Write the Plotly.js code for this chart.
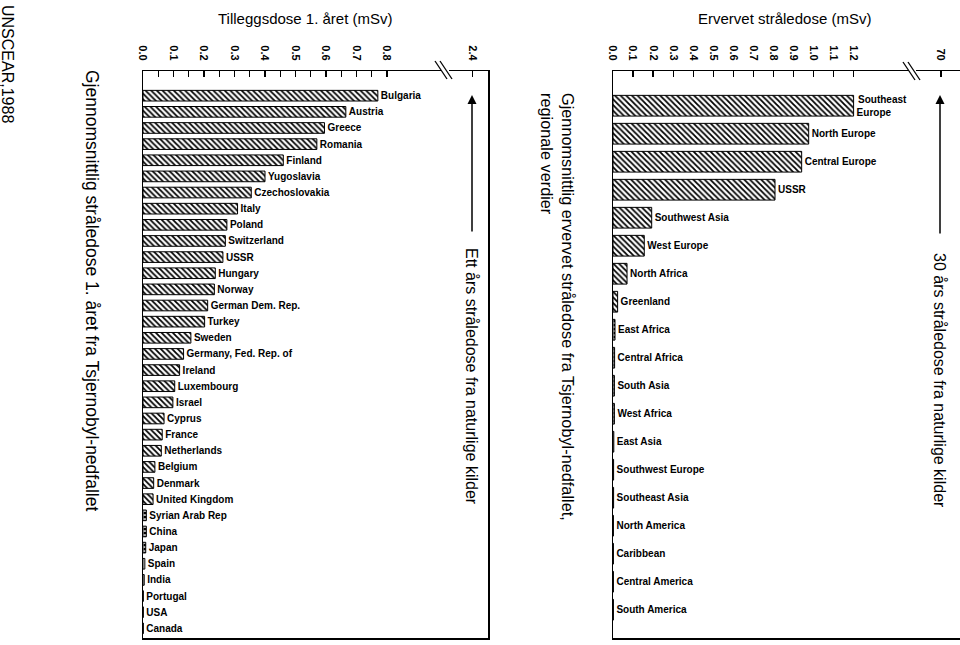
<!DOCTYPE html>
<html>
<head>
<meta charset="utf-8">
<script src="https://cdn.plot.ly/plotly-3.0.1.min.js"></script>
<style>html,body{margin:0;padding:0;background:#fff;}#chart{width:960px;height:645px;}</style>
</head>
<body>
<div id="chart"></div>
<script>
// ---- Data: left panel (Tilleggsdose 1. året, mSv) ----
const countries = ["Bulgaria","Austria","Greece","Romania","Finland","Yugoslavia","Czechoslovakia","Italy","Poland","Switzerland","USSR","Hungary","Norway","German Dem. Rep.","Turkey","Sweden","Germany, Fed. Rep. of","Ireland","Luxembourg","Israel","Cyprus","France","Netherlands","Belgium","Denmark","United Kingdom","Syrian Arab Rep","China","Japan","Spain","India","Portugal","USA","Canada"];
const countryDose = [0.77,0.665,0.595,0.57,0.46,0.40,0.355,0.31,0.275,0.27,0.262,0.237,0.234,0.212,0.202,0.157,0.133,0.12,0.104,0.098,0.069,0.063,0.06,0.039,0.035,0.033,0.011,0.011,0.009,0.006,0.004,0.001,0.001,0.001];
const countryHatch = ["\\","\\","\\","\\","\\","\\","\\","\\","\\","\\","\\","\\","\\","\\","\\","\\","\\","\\","\\","\\","\\","\\","\\","\\","\\","\\",".",".",".","","","","",""];

// ---- Data: right panel (Ervervet stråledose, mSv) ----
const regions = ["Southeast<br>Europe\u00A0\u00A0\u00A0\u00A0\u00A0\u00A0","North Europe","Central Europe","USSR","Southwest Asia","West Europe","North Africa","Greenland","East Africa","Central Africa","South Asia","West Africa","East Asia","Southwest Europe","Southeast Asia","North America","Caribbean","Central America","South America"];
const regionDose = [1.20,0.976,0.941,0.808,0.193,0.156,0.07,0.023,0.01,0.008,0.007,0.007,0.004,0.003,0.003,0.002,0.002,0.002,0.002];
const regionHatch = ["\\","\\","\\","\\","\\","\\","\\","\\",".",".",".",".","","","","","","",""];

// ---- Tick labels ----
const leftTickVals = [0,0.1,0.2,0.3,0.4,0.5,0.6,0.7,0.8,1.0807];
const leftTickText = ["0.0","0.1","0.2","0.3","0.4","0.5","0.6","0.7","0.8","2.4"];
const leftMinorVals = [0.05,0.15,0.25,0.35,0.45,0.55,0.65,0.75];
const rightTickVals = [0,0.1,0.2,0.3,0.4,0.5,0.6,0.7,0.8,0.9,1.0,1.1,1.2,1.636];
const rightTickText = ["0.0","0.1","0.2","0.3","0.4","0.5","0.6","0.7","0.8","0.9","1.0","1.1","1.2","70"];

const W = 960, H = 645;
const px = x => x / W;
const py = y => 1 - y / H;
const FONT = "Liberation Sans, Arial, sans-serif";

const barFont = {family: FONT, size: 10, color: "#000", weight: "bold"};

const traces = [
  {
    type: "bar", orientation: "h", x: countryDose, y: countries,
    xaxis: "x", yaxis: "y", width: 0.66,
    text: countries, textposition: "outside", cliponaxis: false, constraintext: "none",
    textfont: barFont,
    marker: {color: "#fff", line: {color: "#000", width: 1},
      pattern: {shape: countryHatch, fgcolor: "#000", bgcolor: "#fff", size: 4, solidity: 0.45}},
    hoverinfo: "none"
  },
  {
    type: "bar", orientation: "h", x: regionDose, y: regions,
    xaxis: "x2", yaxis: "y2", width: 0.74,
    text: regions, textposition: "outside", cliponaxis: false, constraintext: "none",
    textfont: barFont,
    marker: {color: "#fff", line: {color: "#000", width: 1},
      pattern: {shape: regionHatch, fgcolor: "#000", bgcolor: "#fff", size: 4, solidity: 0.45}},
    hoverinfo: "none"
  }
];

const tickFont = {family: FONT, size: 11, color: "#000", weight: "bold"};
const yDomain = [py(638), py(71)];

function xAxis(domain, range, vals, text, minorVals, anchor) {
  const a = {
    domain: domain, range: range, side: "top", anchor: anchor,
    showline: true, linecolor: "#000", linewidth: 1.5, mirror: true,
    showgrid: false, zeroline: false,
    tickmode: "array", tickvals: vals, ticktext: text,
    ticks: "inside", ticklen: 6, tickwidth: 1.3, tickcolor: "#000",
    tickangle: 90, tickfont: tickFont, ticklabelstandoff: 5
  };
  if (minorVals) {
    a.minor = {tickmode: "array", tickvals: minorVals, ticks: "inside", ticklen: 6, tickwidth: 1.3, tickcolor: "#000", showgrid: false};
  }
  return a;
}

const layout = {
  width: W, height: H,
  margin: {l: 0, r: 0, t: 0, b: 0},
  paper_bgcolor: "#fff", plot_bgcolor: "#fff",
  showlegend: false, bargap: 0.3,
  font: {family: FONT, color: "#000"},
  xaxis: xAxis([px(143), px(488)], [0, 345 / 305], leftTickVals, leftTickText, leftMinorVals, "y"),
  yaxis: {domain: yDomain, anchor: "x", type: "category", categoryorder: "array", categoryarray: countries,
    range: [33.6, -1.53], showline: true, linecolor: "#000", linewidth: 1.5, mirror: true,
    showticklabels: false, ticks: "", showgrid: false, zeroline: false},
  xaxis2: xAxis([px(613), 1], [0, 347 / 200.5], rightTickVals, rightTickText, null, "y2"),
  yaxis2: {domain: yDomain, anchor: "x2", type: "category", categoryorder: "array", categoryarray: regions,
    range: [19.01, -1.24], showline: true, linecolor: "#000", linewidth: 1.5, mirror: true,
    showticklabels: false, ticks: "", showgrid: false, zeroline: false},
  shapes: [
    // axis break marks, left panel
    {type: "rect", xref: "paper", yref: "paper", x0: px(441), x1: px(449), y0: py(74), y1: py(68), fillcolor: "#fff", line: {width: 0}, layer: "above"},
    {type: "line", xref: "paper", yref: "paper", x0: px(435), y0: py(61), x1: px(447), y1: py(79), line: {color: "#000", width: 1.3}},
    {type: "line", xref: "paper", yref: "paper", x0: px(440), y0: py(61), x1: px(452), y1: py(79), line: {color: "#000", width: 1.3}},
    // axis break marks, right panel
    {type: "rect", xref: "paper", yref: "paper", x0: px(909), x1: px(916), y0: py(74), y1: py(68), fillcolor: "#fff", line: {width: 0}, layer: "above"},
    {type: "line", xref: "paper", yref: "paper", x0: px(903), y0: py(62), x1: px(915), y1: py(80), line: {color: "#000", width: 1.3}},
    {type: "line", xref: "paper", yref: "paper", x0: px(908), y0: py(62), x1: px(920), y1: py(80), line: {color: "#000", width: 1.3}}
  ],
  annotations: [
    {text: "Tilleggsdose 1. året (mSv)", xref: "paper", yref: "paper", x: px(305), y: py(18), xanchor: "center", yanchor: "middle", showarrow: false, font: {family: FONT, size: 15, color: "#000"}},
    {text: "Ervervet stråledose (mSv)", xref: "paper", yref: "paper", x: px(784), y: py(18), xanchor: "center", yanchor: "middle", showarrow: false, font: {family: FONT, size: 15, color: "#000"}},
    {text: "UNSCEAR,1988", xref: "paper", yref: "paper", x: px(8), y: py(64), xanchor: "center", yanchor: "middle", textangle: 90, showarrow: false, font: {family: FONT, size: 16, color: "#000"}},
    {text: "Gjennomsnittlig stråledose 1. året fra Tsjernobyl-nedfallet", xref: "paper", yref: "paper", x: px(92), y: py(290), xanchor: "center", yanchor: "middle", textangle: 90, showarrow: false, font: {family: FONT, size: 17.5, color: "#000"}},
    {text: "Gjennomsnittlig ervervet stråledose fra Tsjernobyl-nedfallet,<br>regionale verdier", xref: "paper", yref: "paper", x: px(558), y: py(307), xanchor: "center", yanchor: "middle", align: "left", textangle: 90, showarrow: false, font: {family: FONT, size: 16.3, color: "#000"}},
    {text: "Ett års stråledose fra naturlige kilder", xref: "paper", yref: "paper", x: px(472), y: py(376), xanchor: "center", yanchor: "middle", textangle: 90, showarrow: false, font: {family: FONT, size: 16, color: "#000"}},
    {text: "30 års stråledose fra naturlige kilder", xref: "paper", yref: "paper", x: px(940), y: py(380), xanchor: "center", yanchor: "middle", textangle: 90, showarrow: false, font: {family: FONT, size: 16, color: "#000"}},
    {text: "", xref: "paper", yref: "paper", x: px(472), y: py(95), ax: 0, ay: 138, axref: "pixel", ayref: "pixel", showarrow: true, arrowhead: 2, arrowsize: 1.2, arrowwidth: 1.5, arrowcolor: "#000", standoff: 0, startstandoff: 0},
    {text: "", xref: "paper", yref: "paper", x: px(940), y: py(95), ax: 0, ay: 140, axref: "pixel", ayref: "pixel", showarrow: true, arrowhead: 2, arrowsize: 1.2, arrowwidth: 1.5, arrowcolor: "#000", standoff: 0, startstandoff: 0}
  ]
};

Plotly.newPlot("chart", traces, layout, {displayModeBar: false, staticPlot: true});
</script>
</body>
</html>
